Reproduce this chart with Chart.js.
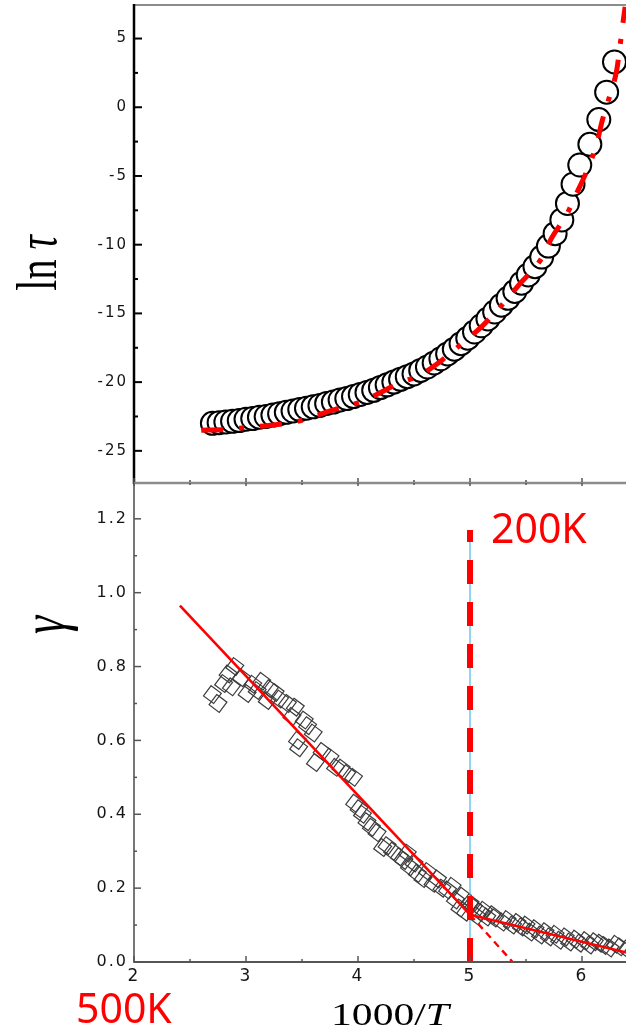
<!DOCTYPE html>
<html><head><meta charset="utf-8">
<script src="https://cdn.jsdelivr.net/npm/chart.js@4.4.1/dist/chart.umd.min.js"></script>
<style>
html,body{margin:0;padding:0;background:#fff;overflow:hidden;width:626px;height:1028px;}
#wrap{position:relative;width:626px;height:1028px;overflow:hidden;background:#fff;}
canvas{position:absolute;left:0;}
#cTop{top:0;}
#cBot{top:480px;}
</style></head><body>
<div id="wrap">
<canvas id="cTop" width="660" height="490"></canvas>
<canvas id="cBot" width="660" height="548"></canvas>
</div>
<script>
// ---------- data ----------
const lnTauX = [2.70,2.76,2.82,2.88,2.94,3.00,3.06,3.12,3.18,3.24,3.30,3.36,3.42,3.48,3.54,3.60,3.66,3.72,3.78,3.84,3.90,3.96,4.02,4.08,4.14,4.20,4.26,4.32,4.38,4.44,4.50,4.56,4.62,4.68,4.74,4.80,4.86,4.92,4.98,5.04,5.10,5.16,5.22,5.28,5.34,5.40,5.46,5.52,5.58,5.64,5.70,5.76,5.82,5.87,5.92,5.98,6.07,6.15,6.22,6.29];
const lnTauY = [-23.0,-22.95,-22.9,-22.85,-22.8,-22.7,-22.65,-22.55,-22.5,-22.4,-22.3,-22.2,-22.1,-22.0,-21.9,-21.8,-21.7,-21.55,-21.45,-21.3,-21.2,-21.05,-20.9,-20.75,-20.6,-20.4,-20.2,-20.0,-19.8,-19.6,-19.4,-19.15,-18.9,-18.6,-18.3,-17.95,-17.6,-17.2,-16.8,-16.35,-15.9,-15.4,-14.9,-14.4,-13.9,-13.4,-12.8,-12.2,-11.6,-10.9,-10.1,-9.2,-8.2,-7.0,-5.6,-4.2,-2.7,-0.9,1.1,3.3];
const vftX = [2.60,2.80,3.00,3.20,3.44,3.62,3.81,4.02,4.18,4.36,4.55,4.75,4.94,5.10,5.24,5.45,5.63,5.73,5.87,5.95,6.05,6.13,6.18,6.25,6.31,6.34,6.37,6.385];
const vftY = [-23.5,-23.45,-23.3,-23.15,-22.9,-22.45,-21.95,-21.45,-20.85,-20.1,-19.5,-18.4,-17.1,-16.0,-14.8,-12.8,-11.1,-9.5,-7.7,-6.3,-4.5,-2.7,-1.0,0.9,2.7,4.5,6.4,7.3];
const gammaX = [2.70,2.75,2.80,2.84,2.87,2.90,2.96,3.01,3.06,3.10,3.14,3.19,3.21,3.26,3.30,3.37,3.41,3.44,3.46,3.47,3.52,3.55,3.60,3.62,3.68,3.75,3.80,3.85,3.90,3.96,3.97,4.01,4.04,4.08,4.12,4.17,4.22,4.26,4.31,4.37,4.41,4.44,4.46,4.50,4.53,4.58,4.62,4.67,4.71,4.75,4.80,4.84,4.87,4.91,4.93,4.96,5.00,5.03,5.06,5.09,5.12,5.15,5.20,5.22,5.29,5.33,5.38,5.42,5.46,5.50,5.54,5.58,5.63,5.67,5.71,5.76,5.80,5.85,5.89,5.94,5.98,6.03,6.07,6.11,6.16,6.20,6.25,6.30,6.34,6.40];
const gammaY = [0.724,0.700,0.754,0.780,0.745,0.800,0.770,0.727,0.752,0.735,0.760,0.708,0.740,0.730,0.712,0.700,0.665,0.690,0.600,0.580,0.655,0.640,0.620,0.540,0.570,0.555,0.527,0.525,0.510,0.500,0.430,0.415,0.400,0.380,0.365,0.350,0.310,0.315,0.300,0.285,0.275,0.295,0.258,0.268,0.240,0.226,0.245,0.213,0.225,0.200,0.195,0.205,0.168,0.146,0.178,0.135,0.160,0.149,0.125,0.135,0.140,0.122,0.128,0.119,0.108,0.115,0.100,0.107,0.095,0.100,0.081,0.090,0.073,0.082,0.068,0.075,0.059,0.068,0.054,0.062,0.051,0.058,0.046,0.055,0.051,0.045,0.038,0.048,0.041,0.035];
const highTX = [2.41, 5.00];  const highTY = [0.965, 0.128];
const extX   = [5.00, 5.38];  const extY   = [0.128, 0.000];
const lowTX  = [5.00, 6.50];  const lowTY  = [0.128, 0.018];
const markX  = [5.00, 5.00];  const markY  = [0.000, 1.170];
const xTicks = [2,3,4,5,6];
const xTickLabels = ['2','3','4','5','6'];
const lnTauTicks = [-25,-20,-15,-10,-5,0,5];
const lnTauTickLabels = ['-25','-20','-15','-10','-5','0','5'];
const gammaTicks = [0,0.2,0.4,0.6,0.8,1.0,1.2];
const gammaTickLabels = ['0.0','0.2','0.4','0.6','0.8','1.0','1.2'];
const xRange = [2, 6.5];
const lnTauRange = [-27.34, 7.44];
const gammaRange = [0, 1.297];
const annHigh = '500K', annLow = '200K';

// ---------- helpers ----------
const pts = (xs, ys) => xs.map((x, i) => ({x: x, y: ys[i]}));
const mids = (arr) => arr.slice(0, -1).map((v, i) => (v + arr[i + 1]) / 2);
function fixScale(size, horizontal) {
  return function (s) {
    if (horizontal) s.height = size; else s.width = size;
    s.paddingTop = 0; s.paddingBottom = 0; s.paddingLeft = 0; s.paddingRight = 0;
  };
}
function seg(ctx, x1, y1, x2, y2, c, w) {
  ctx.strokeStyle = c; ctx.lineWidth = w;
  ctx.beginPath(); ctx.moveTo(x1, y1); ctx.lineTo(x2, y2); ctx.stroke();
}
function rotTitle(ctx, parts, baseX, centerY, sx) {
  ctx.save();
  let total = 0;
  parts.forEach(p => { ctx.font = p.font; p.w = ctx.measureText(p.text).width; total += p.w; });
  ctx.translate(baseX, centerY); ctx.scale(sx, 1); ctx.rotate(-Math.PI / 2);
  ctx.textAlign = 'left'; ctx.textBaseline = 'alphabetic'; ctx.fillStyle = '#000';
  let x = -total / 2;
  parts.forEach(p => { ctx.font = p.font; ctx.fillText(p.text, x, 0); x += p.w; });
  ctx.restore();
}
function flatTitle(ctx, parts, centerX, baseY, sx) {
  ctx.save();
  let total = 0;
  parts.forEach(p => { ctx.font = p.font; p.w = ctx.measureText(p.text).width; total += p.w; });
  ctx.translate(centerX - total * sx / 2, baseY); ctx.scale(sx, 1);
  ctx.textAlign = 'left'; ctx.textBaseline = 'alphabetic'; ctx.fillStyle = '#000';
  let x = 0;
  parts.forEach(p => { ctx.font = p.font; ctx.fillText(p.text, x, 0); x += p.w; });
  ctx.restore();
}
const spacing = {
  id: 'spacing',
  beforeDraw(chart) { chart.ctx.letterSpacing = '2px'; },
  beforeDatasetsDraw(chart) { chart.ctx.letterSpacing = '0px'; }
};

Chart.defaults.font.family = "'DejaVu Sans', sans-serif";
Chart.defaults.color = '#151515';

// ---------- top panel: ln tau ----------
const topFrame = {
  id: 'topFrame',
  afterDraw(chart) {
    const {ctx, chartArea: a, scales: {x, y}} = chart;
    ctx.save(); ctx.letterSpacing = '0px';
    seg(ctx, a.left, a.top, a.right + 10, a.top, '#8c8c8c', 2);
    seg(ctx, a.left, a.bottom, a.right + 10, a.bottom, '#8c8c8c', 2.5);
    seg(ctx, a.left, a.top - 1, a.left, a.bottom + 1, '#000', 2.5);
    lnTauTicks.forEach(v => { const p = y.getPixelForValue(v); seg(ctx, a.left, p, a.left + 8, p, '#000', 2); });
    mids(lnTauTicks.concat([10])).concat([-27.5]).forEach(v => {
      const p = y.getPixelForValue(v); if (p > a.top && p < a.bottom) seg(ctx, a.left, p, a.left + 4, p, '#000', 2);
    });
    xTicks.forEach(v => { const p = x.getPixelForValue(v); seg(ctx, p, a.bottom, p, a.bottom - 5, '#555', 1.5); });
    mids(xTicks).forEach(v => { const p = x.getPixelForValue(v); seg(ctx, p, a.bottom, p, a.bottom - 3, '#555', 1.5); });
    rotTitle(ctx, [{text: 'ln ', font: "40px 'Liberation Serif'"}, {text: 'τ', font: "italic 40px 'Liberation Serif'"}], 56, 263, 1.4);
    ctx.restore();
  }
};

new Chart(document.getElementById('cTop'), {
  type: 'scatter',
  data: {
    datasets: [
      {data: pts(vftX, vftY), showLine: true, borderColor: '#ff0000', borderWidth: 5,
       borderDash: [22, 16, 5, 16], pointRadius: 0, tension: 0.3, cubicInterpolationMode: 'monotone', fill: false},
      {data: pts(lnTauX, lnTauY), showLine: false, pointStyle: 'circle', pointRadius: 11.5,
       pointBorderWidth: 2, pointBorderColor: '#000', pointBackgroundColor: '#fff'}
    ]
  },
  options: {
    responsive: false, animation: false, events: [],
    layout: {padding: {left: 0, top: 5, right: 22, bottom: 7}, autoPadding: false},
    plugins: {legend: {display: false}, tooltip: {enabled: false}},
    scales: {
      x: {type: 'linear', min: xRange[0], max: xRange[1], display: false},
      y: {type: 'linear', min: lnTauRange[0], max: lnTauRange[1],
          afterBuildTicks: s => { s.ticks = lnTauTicks.map(v => ({value: v})); },
          afterFit: fixScale(134, false),
          grid: {display: false, drawTicks: false}, border: {display: false},
          ticks: {padding: 6, font: {size: 15}, callback: (v, i) => lnTauTickLabels[i]}}
    }
  },
  plugins: [spacing, topFrame]
});

// ---------- bottom panel: gamma ----------
const botFrame = {
  id: 'botFrame',
  afterDraw(chart) {
    const {ctx, chartArea: a, scales: {x, y}} = chart;
    ctx.save(); ctx.letterSpacing = '0px';
    seg(ctx, a.left, a.top, a.right + 10, a.top, '#8c8c8c', 2);
    seg(ctx, a.left, a.bottom, a.right + 10, a.bottom, '#555', 2.2);
    seg(ctx, a.left, a.top, a.left, a.bottom + 1, '#555', 1.6);
    gammaTicks.forEach(v => { const p = y.getPixelForValue(v); seg(ctx, a.left, p, a.left + 7, p, '#555', 1.5); });
    mids(gammaTicks).forEach(v => { const p = y.getPixelForValue(v); seg(ctx, a.left, p, a.left + 3, p, '#555', 1.5); });
    xTicks.forEach(v => { const p = x.getPixelForValue(v);
      seg(ctx, p, a.bottom, p, a.bottom - 6, '#555', 1.5); seg(ctx, p, a.top, p, a.top + 3, '#555', 1.5); });
    mids(xTicks).forEach(v => { const p = x.getPixelForValue(v);
      seg(ctx, p, a.bottom, p, a.bottom - 3, '#555', 1.5); seg(ctx, p, a.top, p, a.top + 2, '#555', 1.5); });
    rotTitle(ctx, [{text: 'γ', font: "italic 46px 'Liberation Serif'"}], 64, 145, 1.4);
    flatTitle(ctx, [{text: '1000/', font: "32px 'Liberation Serif'"}, {text: 'T', font: "italic 32px 'Liberation Serif'"}], 390, 545, 1.3);
    ctx.fillStyle = '#ff0000'; ctx.font = "41px 'Noto Sans'"; ctx.textAlign = 'left'; ctx.textBaseline = 'alphabetic';
    ctx.fillText(annLow, 491, 63);
    ctx.fillText(annHigh, 76, 543);
    ctx.restore();
  }
};

new Chart(document.getElementById('cBot'), {
  type: 'scatter',
  data: {
    datasets: [
      {data: pts(markX, markY), showLine: true, borderColor: '#ff0000', borderWidth: 6, borderDash: [24, 18], pointRadius: 0},
      {data: pts(markX, markY), showLine: true, borderColor: '#4ab8e8', borderWidth: 1.2, pointRadius: 0},
      {data: pts(highTX, highTY), showLine: true, borderColor: '#ff0000', borderWidth: 2.6, pointRadius: 0},
      {data: pts(lowTX, lowTY), showLine: true, borderColor: '#ff0000', borderWidth: 2.6, pointRadius: 0},
      {data: pts(extX, extY), showLine: true, borderColor: '#ff0000', borderWidth: 2.4, borderDash: [7, 5], pointRadius: 0},
      {data: pts(gammaX, gammaY), showLine: false, pointStyle: 'rect', rotation: 37, pointRadius: 9,
       pointBorderWidth: 1.2, pointBorderColor: '#3c3c3c', pointBackgroundColor: 'rgba(255,255,255,0)'}
    ]
  },
  options: {
    responsive: false, animation: false, events: [],
    layout: {padding: {left: 0, top: 3, right: 22, bottom: 0}, autoPadding: false},
    plugins: {legend: {display: false}, tooltip: {enabled: false}},
    scales: {
      x: {type: 'linear', min: xRange[0], max: xRange[1],
          afterBuildTicks: s => { s.ticks = xTicks.map(v => ({value: v})); },
          afterFit: fixScale(66, true),
          grid: {display: false, drawTicks: false}, border: {display: false},
          ticks: {padding: 4, font: {size: 17}, maxRotation: 0, autoSkip: false, callback: (v, i) => xTickLabels[i]}},
      y: {type: 'linear', min: gammaRange[0], max: gammaRange[1],
          afterBuildTicks: s => { s.ticks = gammaTicks.map(v => ({value: v})); },
          afterFit: fixScale(134, false),
          grid: {display: false, drawTicks: false}, border: {display: false},
          ticks: {padding: 6, font: {size: 16}, callback: (v, i) => gammaTickLabels[i]}}
    }
  },
  plugins: [spacing, botFrame]
});
</script>
</body></html>
